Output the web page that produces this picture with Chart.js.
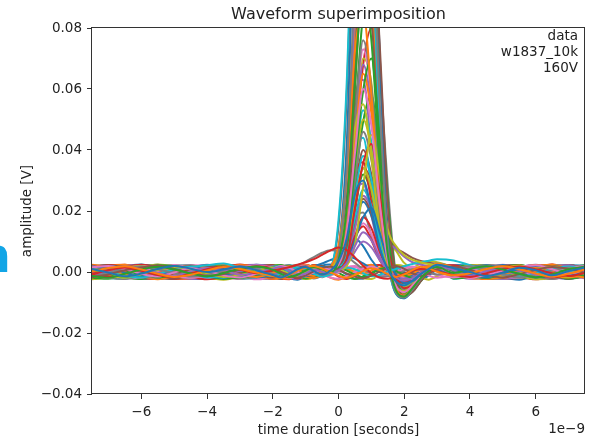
<!DOCTYPE html>
<html>
<head>
<meta charset="utf-8">
<title>Waveform superimposition</title>
<script src="https://cdn.jsdelivr.net/npm/chart.js@4.4.1/dist/chart.umd.min.js"></script>
<style>
  body { margin: 0; background: #fff; }
  #wrap { width: 592px; height: 441px; position: relative; }
</style>
</head>
<body>
<div id="wrap"><canvas id="grafica" width="592" height="441"></canvas></div>
<script>
// sample times, in ns (axis shows the 1e-9 factor)
const times = [-7.5, -7, -6.5, -6, -5.5, -5, -4.5, -4, -3.5, -3, -2.5, -2,
  -1.75, -1.5, -1.25, -1, -0.75, -0.5, -0.25, 0, 0.25, 0.5, 0.75, 1, 1.25, 1.5, 1.75, 2, 2.25, 2.5, 2.75, 3,
  3.5, 4, 4.5, 5, 5.5, 6, 6.5, 7, 7.5];

const timeTicks = [-6, -4, -2, 0, 2, 4, 6];
const ampTicks = [-0.04, -0.02, 0, 0.02, 0.04, 0.06, 0.08];

const chartTitle = 'Waveform superimposition';
const legendLines = ['data', 'w1837_10k', '160V'];

// waveforms, amplitude in mV (one value per sample time)
const noise1 = [0.2, 1.3, 1.9, 0.8, -0.6, -1.6, -0.9, 0.5, 1.6, 1.0, -0.2, -1.3, -1.8, -0.9, 0.4, 1.5, 2.0, 1.1, -0.1, -1.2, -1.9, -1.0, 0.3, 1.2, 0.6, -0.7, -1.6, -0.8, 0.6, 1.7, 1.2, 0.1, -1.1, -0.4, 1.0, 1.9, 0.9, -0.5, -1.5, -0.6, 0.8];
const noise2 = [-1.7, -0.8, 0.6, 1.5, 2.1, 1.0, -0.3, -1.4, -0.7, 0.8, 1.8, 0.9, 0.0, -1.0, -1.9, -1.1, 0.2, 1.3, 1.8, 0.7, -0.5, -1.5, -2.1, -1.2, 0.1, 1.4, 2.0, 1.0, -0.4, -1.3, -0.5, 0.9, 1.8, 0.6, -0.9, -1.8, -0.7, 0.7, 1.6, 1.0, -0.3];
const noise3 = [1.1, 0.0, -1.2, -1.8, -0.6, 0.9, 1.7, 2.2, 2.8, 1.3, -0.2, -1.3, -0.6, 0.7, 1.5, 0.8, -0.6, -1.5, -0.9, 0.4, 1.4, 0.9, -0.4, -1.4, -1.0, 0.2, 1.0, 1.9, 2.6, 3.2, 3.7, 4.2, 3.8, 2.2, 0.6, -0.8, -1.6, -0.5, 1.0, 1.8, 0.7];
const noise4 = [0.7, -0.6, -1.5, -0.4, 1.0, 1.9, 1.2, -0.1, -1.4, -2.0, -0.9, 0.6, 1.5, 2.0, 1.1, -0.2, -1.3, -0.6, 0.8, 1.6, 0.5, -0.9, -1.7, -0.6, 0.9, 1.5, 0.3, -1.0, -1.9, -1.2, 0.2, 1.3, 0.4, -1.1, -1.9, -0.6, 1.1, 2.0, 1.0, -0.4, -1.2];
const noise5 = [-0.3, 0.9, 1.8, 1.2, 0.0, -1.1, -1.9, -1.0, 0.3, 1.4, 2.1, 1.3, 0.1, -0.8, 0.2, 1.2, 0.6, -0.7, -1.8, -2.2, -1.3, 0.0, 1.1, 1.8, 0.9, -0.2, -1.0, -2.0, -2.4, -1.5, -0.3, 0.8, 1.7, 1.1, -0.2, -1.3, -1.9, -0.8, 0.5, 1.4, 2.0];
const noise6 = [1.6, 0.5, -0.8, -1.7, -1.1, 0.3, 1.4, 0.6, -0.7, -1.5, -0.4, 1.0, 1.9, 1.1, -0.3, -1.5, -2.0, -0.8, 0.6, 1.7, 1.2, 0.1, -0.6, 0.5, 1.5, 0.8, -0.4, -1.3, -0.5, 0.9, 2.0, 1.4, 0.0, -1.4, -0.8, 0.6, 1.6, 0.3, -1.0, -1.8, -0.9];
const noise7 = [-1.0, -1.9, -1.1, 0.4, 1.5, 0.7, -0.5, 0.6, 1.7, 0.9, -0.6, -1.7, -1.0, 0.4, 1.6, 2.1, 1.0, -0.2, -1.1, -0.2, 0.9, 1.6, 0.4, -0.9, -1.8, -1.2, 0.0, 0.9, 1.8, 1.1, -0.1, -1.0, -1.8, -0.7, 0.7, 1.5, 0.5, -0.8, -1.6, -0.5, 0.9];
const noise8 = [0.4, 1.5, 0.6, -0.9, -1.8, -0.8, 0.5, 1.6, 1.9, 0.5, -1.0, -0.3, 0.8, -0.4, -1.5, -0.7, 0.7, 1.8, 1.0, -0.3, -1.6, -2.3, -1.4, -0.2, 0.9, 1.6, 0.7, -0.6, -0.1, 1.0, 1.6, 0.5, -0.9, 0.2, 1.4, 0.8, -0.6, -1.7, -1.1, 0.3, 1.5];
const noise9 = [-0.5, 0.3, 1.2, 2.0, 1.3, 0.1, -1.0, -1.8, -0.9, 0.2, 0.9, 0.1, -1.2, -1.9, -1.2, 0.1, 1.1, 0.4, -0.7, 0.5, 1.6, 2.0, 1.0, -0.3, -1.4, -0.6, 0.6, 1.7, 1.3, 0.2, -1.2, -1.9, -0.8, 0.6, 1.8, 1.2, -0.1, -1.0, 0.2, 1.3, 0.5];
const noise10 = [2.4, 1.5, 0.0, -1.6, -2.4, -1.3, 0.4, 2.0, 2.3, 0.9, -0.9, -2.2, -1.9, -0.3, 1.4, 2.4, 1.4, -0.2, -1.8, -2.5, -1.4, 0.2, 1.8, 2.4, 1.2, -0.5, -2.0, -2.4, -1.0, 0.7, 2.1, 2.2, 0.6, -1.2, -2.3, -1.6, 0.1, 1.8, 2.4, 1.1, -0.6];
const noise11 = [-2.4, -1.7, -0.1, 1.6, 2.5, 1.7, 0.0, -1.7, -2.5, -1.5, 0.3, 2.0, 2.3, 0.8, -1.1, -2.3, -1.8, 0.0, 1.7, 2.4, 1.3, -0.4, -2.0, -2.3, -0.9, 0.9, 2.3, 1.9, 0.2, -1.6, -2.5, -1.4, 0.5, 2.1, 2.3, 0.8, -1.1, -2.4, -1.8, 0.1, 1.9];
const noise12 = [0.6, 2.2, 2.4, 0.9, -1.0, -2.3, -2.0, -0.4, 1.5, 2.5, 1.5, -0.3, -2.0, -2.4, -1.0, 0.9, 2.3, 2.0, 0.3, -1.5, -2.3, -1.2, 0.6, 2.2, 2.3, 0.6, -1.3, -2.4, -1.7, 0.1, 1.9, 2.4, 1.0, -0.9, -2.3, -2.0, -0.3, 1.6, 2.5, 1.4, -0.5];
const noise13 = [-1.5, 0.2, 1.9, 2.5, 1.2, -0.7, -2.2, -2.3, -0.8, 1.1, 2.4, 1.8, 0.0, -1.8, -2.5, -1.3, 0.5, 2.1, 2.5, 1.0, -0.8, -2.2, -2.1, -0.5, 1.3, 2.4, 1.6, -0.2, -1.9, -2.4, -1.1, 0.8, 2.3, 1.9, 0.1, -1.7, -2.5, -1.2, 0.7, 2.2, 2.1];

const pulse10 = [0.8, -0.5, 1.2, 0.3, -1.1, 0.6, 1.5, -0.2, -1.3, 0.4, 1.1, -0.6, 0.2, 1.0, -0.4, -1.2, 0.5, 0.9, 0.2, 0.6, 2.4, 6.7, 10, 8.1, 4.0, 0.6, -1.4, -2.2, -1.5, -0.3, 0.8, 1.3, -0.4, 0.9, 1.6, -0.7, 0.2, 1.2, -1.0, 0.4, 1.1];
const pulse11 = [1.7, 0.6, -0.7, -1.9, -1.2, 0.2, 1.5, 2.2, 1.0, -0.5, -1.6, -0.9, 0.6, 1.8, 1.2, -0.2, -1.5, -0.8, 0.3, 1.5, 6.0, 11, 8.5, 4.0, 0.8, -0.8, -1.6, -1.8, -1.0, 0.2, 1.0, 1.2, 0.4, 1.6, 2.2, 0.9, -0.6, -1.8, -1.1, 0.3, 1.5];
const pulse13 = [-1.0, 0.4, 1.6, 0.9, -0.3, -1.4, 0.2, 1.3, 0.7, -0.9, -0.2, 1.1, 1.6, 0.3, -1.1, -0.5, 0.8, 0.1, -0.4, 0.5, 2.9, 8.5, 13, 10.4, 4.9, 0.8, -1.8, -2.9, -2.0, -0.6, 0.9, 1.7, 0.6, -1.2, 0.3, 1.4, 0.8, -0.8, -1.5, 0.6, 1.8];
const pulse15 = [1.4, 2.0, 0.6, -0.8, -1.6, -0.4, 0.9, 1.8, 1.1, 0.0, -1.3, -0.7, 0.6, 1.4, 2.0, 1.0, -0.3, -0.9, 0.1, 1.2, 4.5, 11.5, 15, 10.5, 4.0, 0.2, -2.2, -3.0, -1.8, -0.2, 1.2, 1.9, -0.2, -1.4, 0.1, 1.5, 2.1, 0.7, -0.6, -1.3, 0.2];
const pulse16 = [-0.9, -2.0, -1.2, 0.2, 1.6, 2.3, 1.1, -0.4, -1.7, -2.1, -0.8, 0.7, 1.8, 0.9, -0.6, -1.9, -1.0, 0.5, -0.2, 0.9, 3.8, 10.8, 16, 12.5, 5.6, 0.7, -2.0, -3.0, -2.1, -0.6, 0.7, 1.6, -1.2, -2.0, -0.7, 0.8, 2.0, 1.3, -0.2, -1.5, -2.1];
const pulse18 = [-1.6, -0.6, 0.7, 1.5, 0.4, -0.5, -1.5, -0.8, 0.5, 1.7, 1.2, -0.1, -1.2, -1.7, -0.4, 0.6, 1.5, 0.8, 0.4, 1.0, 4.0, 11.7, 18, 14.4, 6.8, 1.1, -2.1, -3.4, -2.3, -0.8, 0.7, 1.5, 2.0, 0.9, -0.9, -1.6, -0.3, 1.3, 1.9, 0.0, -1.2];
const pulse20 = [2.3, 1.2, -0.1, -1.1, -2.1, -1.3, 0.1, 1.3, 2.2, 1.4, 0.2, -1.0, -2.0, -1.4, 0.0, 1.4, 2.1, 1.2, 0.5, 2.4, 8.5, 17.5, 19.5, 12.0, 4.2, 0.0, -2.4, -3.3, -2.0, -0.4, 1.0, 1.8, 1.9, 0.7, -0.8, -2.2, -1.4, 0.2, 1.5, 2.3, 1.0];
const pulse21 = [0.3, 1.3, -0.2, -1.5, -0.9, 0.8, 1.9, 0.5, -0.7, -1.5, 0.0, 1.4, 0.9, -0.5, -1.4, -0.2, 1.1, 1.7, 0.9, 0.8, 2.7, 10.5, 17.9, 21, 13.0, 3.8, -0.8, -3.6, -3.0, -1.4, 0.3, 1.4, 1.1, -0.6, -1.7, -0.4, 1.0, 2.0, 0.8, -0.9, 0.3];
const pulse23 = [-2.1, -1.0, 0.4, 1.9, 2.4, 1.1, -0.5, -1.9, -2.2, -0.9, 0.6, 2.1, 1.5, 0.0, -1.5, -2.2, -1.1, 0.3, 0.1, 1.0, 5.0, 15.0, 23, 18.4, 8.7, 1.4, -2.5, -3.8, -2.5, -0.9, 0.6, 1.3, -1.5, -0.3, 1.2, 2.3, 1.4, -0.1, -1.6, -2.3, -1.0];
const pulse24 = [2.1, 0.8, -0.6, -1.3, 0.2, 1.6, 1.0, -0.4, -1.6, -0.9, 0.7, 2.0, 1.3, 0.0, -1.0, 0.4, 1.8, 1.2, 0.5, 1.3, 5.3, 15.6, 24, 19.2, 9.1, 1.4, -2.6, -4.0, -2.6, -0.9, 0.8, 2.2, 0.5, -1.1, -1.8, 0.3, 1.7, 1.0, -0.5, -1.7, -0.6];
const pulse27 = [-0.7, -1.7, -0.9, 0.6, 1.7, 0.9, -0.6, -1.8, -1.0, 0.3, 1.5, 0.4, -0.8, -1.5, 0.1, 1.3, 0.6, -0.4, -0.3, 1.1, 5.9, 17.6, 27, 21.6, 10.3, 1.6, -2.9, -4.3, -2.9, -1.2, 0.2, 1.0, 1.9, 1.2, -0.2, -1.4, -0.8, 0.9, 1.6, 0.4, -1.0];
const pulse29 = [0.0, 1.4, 2.3, 1.5, -0.1, -1.6, -2.3, -1.2, 0.5, 2.0, 2.4, 1.0, -0.6, -2.0, -1.6, -0.2, 1.3, 0.9, 0.8, 3.6, 12.8, 26.0, 29, 18.5, 6.5, 0.4, -3.2, -4.4, -2.9, -0.8, 1.2, 2.1, 0.6, -0.9, -2.1, -1.5, 0.2, 1.9, 2.4, 1.2, -0.4];
const pulse30 = [1.0, -0.2, -1.4, -0.5, 1.0, 2.0, 1.1, 0.0, 0.8, 1.8, 0.6, -1.0, -1.8, -0.7, 0.9, 1.6, 0.3, -0.8, 0.4, 3.5, 11.0, 25.5, 30, 20.5, 7.8, 0.9, -3.1, -4.4, -2.8, -0.7, 1.0, 2.4, 1.3, 0.0, -1.3, -0.2, 1.4, 0.6, -1.1, 0.3, 1.5];
const pulse32 = [1.3, -0.2, -1.7, -2.3, -1.1, 0.6, 2.0, 1.6, 0.1, -1.4, -2.3, -1.5, 0.2, 1.7, 2.3, 1.0, -0.6, -1.7, 0.0, 1.3, 7.0, 20.8, 32, 25.6, 12.2, 1.9, -3.3, -4.8, -3.1, -1.1, 0.5, 1.5, 2.3, 1.3, -0.2, -1.8, -2.2, -0.8, 0.8, 2.1, 1.4];
const pulse34 = [-1.2, 0.1, 1.4, 2.0, 0.7, -0.9, -1.7, -0.2, 1.2, 0.5, -1.1, -1.6, -0.3, 1.0, 1.9, 0.7, -0.6, -1.3, -0.2, 1.4, 7.5, 22.1, 34, 27.2, 12.9, 2.0, -3.3, -4.9, -3.2, -1.0, 0.6, 1.8, -0.8, -1.6, -0.5, 0.8, 1.9, 1.3, -0.2, -1.4, -0.9];
const pulse36 = [-1.4, 0.1, 1.6, 2.4, 1.5, 0.0, -1.5, -2.4, -1.6, 0.1, 1.7, 2.2, 0.9, -0.8, -2.1, -1.3, 0.4, 1.1, 0.6, 4.3, 15.8, 32.4, 36, 23.0, 8.3, 0.6, -3.8, -5.1, -3.3, -0.9, 1.0, 2.2, -2.0, -1.1, 0.5, 1.9, 2.2, 0.8, -0.9, -2.2, -1.3];
const pulse38 = [0.6, 1.7, 1.1, -0.3, -1.2, 0.0, 1.3, 0.6, -0.9, -1.9, -0.8, 0.7, 1.6, 0.9, -0.7, -1.6, -0.2, 1.0, 1.3, 1.9, 8.4, 24.7, 38, 30.4, 14.4, 2.3, -3.6, -5.2, -3.5, -1.3, 0.9, 2.8, 1.6, 0.2, -1.0, -1.7, 0.1, 1.4, 2.0, 0.8, -0.4];
const pulse40 = [2.0, 2.3, 0.9, -0.7, -2.0, -1.8, -0.3, 1.4, 2.3, 1.2, -0.4, -1.9, -2.2, -0.8, 0.9, 2.2, 1.6, 0.1, -0.3, 1.6, 8.8, 26.0, 40, 32.0, 15.2, 2.4, -3.8, -5.4, -3.6, -1.2, 0.6, 1.7, -0.2, 1.4, 2.3, 1.6, 0.0, -1.6, -2.3, -1.2, 0.5];
const pulse42 = [-0.4, -1.5, -0.8, 0.9, 1.8, 1.0, -0.1, -1.2, -0.4, 0.9, 1.9, 1.2, 0.0, -1.2, -1.9, -0.6, 0.8, 1.5, 0.7, 1.2, 4.4, 21.0, 35.7, 42, 26.0, 7.6, -1.5, -5.3, -4.4, -2.0, 0.0, 1.5, 2.2, 0.6, -0.9, 0.4, 1.2, -0.6, -1.8, -0.7, 0.8];
const pulse44 = [-0.6, -1.9, -2.2, -0.9, 0.8, 2.1, 2.0, 0.6, -1.0, -2.2, -1.7, -0.1, 1.5, 2.3, 1.4, -0.3, -1.8, -1.1, 0.9, 5.3, 19.4, 39.6, 44, 28.2, 10.1, 0.8, -4.2, -5.8, -3.8, -1.0, 1.1, 2.4, 1.1, -0.5, -2.0, -2.1, -0.6, 1.2, 2.3, 1.5, -0.1];
const pulse46 = [1.8, 0.7, -0.5, -1.8, -1.1, 0.4, 1.6, 2.1, 0.8, -0.4, -1.4, -0.5, 0.9, 1.7, 0.5, -0.8, -1.5, -0.4, 0.3, 1.8, 10.1, 29.9, 46, 36.8, 17.5, 2.8, -3.9, -5.6, -3.8, -1.4, 0.4, 1.2, 0.3, 1.5, 1.9, 0.5, -1.2, -1.7, -0.1, 1.3, 2.0];
const pulse50 = [-0.9, 0.5, 1.5, 0.6, -0.6, -1.6, -0.7, 0.8, 1.7, 1.0, -0.3, 0.6, 1.4, 0.2, -1.0, -0.2, 1.2, 0.7, -0.5, 2.0, 11.0, 32.5, 50, 40.0, 19.0, 3.0, -4.2, -6.0, -4.0, -1.5, 0.5, 2.0, 1.0, -0.7, -1.9, -0.9, 0.6, 1.8, 1.1, -0.3, -1.5];
const pulse53 = [0.9, 2.1, 1.9, 0.3, -1.3, -2.3, -1.6, 0.0, 1.6, 2.3, 1.1, -0.6, -2.0, -2.0, -0.5, 1.1, 2.2, 1.3, 0.2, 2.1, 11.7, 34.5, 53, 42.4, 20.1, 3.2, -4.4, -6.2, -4.1, -1.5, 0.5, 1.9, -2.2, -1.3, 0.3, 1.9, 2.3, 0.9, -0.8, -2.1, -1.6];
const pulse55 = [0.2, -1.0, -1.9, -0.8, 0.7, 1.4, 0.3, -0.9, -0.1, 1.2, 2.0, 0.9, -0.4, -1.3, -0.3, 1.1, 1.9, 0.8, 1.2, 6.0, 20.0, 46.8, 55, 37.6, 14.3, 1.7, -4.5, -6.3, -4.1, -1.2, 1.2, 2.6, 0.4, -1.3, -0.6, 1.0, 2.1, 1.0, -0.4, -1.6, -0.3];
const pulse58 = [-2.2, -1.4, 0.2, 1.8, 2.3, 1.0, -0.7, -2.0, -1.9, -0.4, 1.3, 2.3, 1.6, -0.1, -1.7, -2.2, -0.9, 0.4, 0.7, 1.5, 5.8, 29.0, 49.3, 58, 36.5, 10.8, -2.0, -6.4, -5.0, -2.2, 0.1, 1.6, 1.6, 2.3, 1.0, -0.6, -2.0, -1.8, -0.2, 1.4, 2.2];
const pulse60 = [1.5, 2.0, 0.9, -0.6, -1.5, -0.2, 1.2, 0.4, -1.1, -1.8, -0.6, 1.0, 2.0, 1.4, 0.1, -1.0, -0.1, 1.3, 0.9, 2.4, 13.2, 39.0, 60, 48.0, 22.8, 3.6, -4.6, -6.6, -4.4, -1.6, 0.6, 1.4, -0.5, -1.8, -1.0, 0.5, 1.6, 2.2, 0.9, -0.5, 0.6];
const pulse63 = [1.8, 0.4, -1.2, -2.3, -1.8, -0.2, 1.5, 2.4, 1.6, -0.1, -1.7, -2.3, -1.1, 0.6, 2.0, 1.9, 0.3, -0.9, 1.1, 7.6, 27.7, 56.7, 63, 40.3, 14.5, 1.3, -4.9, -6.8, -4.4, -1.3, 1.0, 2.3, -0.9, -2.2, -1.8, -0.1, 1.6, 2.4, 1.5, -0.2, -1.8];
const pulse65 = [-1.8, -0.8, 0.5, 1.6, 1.0, -0.3, -1.4, -0.6, 0.9, 1.9, 1.3, 0.1, -1.1, -0.4, 0.8, 1.6, 0.5, -0.6, 0.2, 2.6, 14.3, 42.3, 65, 52.0, 24.7, 3.9, -5.0, -7.0, -4.6, -1.6, 0.8, 2.1, 1.4, 0.2, -1.2, -1.9, -0.5, 1.0, 1.7, 0.3, -0.9];
const pulse68 = [-1.1, 0.6, 2.0, 2.2, 0.8, -0.9, -2.2, -2.0, -0.5, 1.2, 2.3, 1.7, 0.0, -1.6, -2.3, -1.0, 0.7, 1.6, 0.4, 2.7, 15.0, 44.2, 68, 54.4, 25.8, 4.1, -5.1, -7.1, -4.7, -1.7, 0.6, 2.0, 2.2, 0.6, -1.1, -2.3, -1.5, 0.3, 1.9, 2.2, 0.7];
const pulse70 = [0.9, -0.4, -1.2, 0.0, 1.3, 1.9, 0.6, -0.7, -1.5, -0.6, 0.8, 1.5, 0.4, -0.9, -1.7, -0.7, 0.6, 1.4, 1.0, 1.8, 7.0, 35.0, 59.5, 70, 44.0, 13.0, -2.0, -6.8, -5.6, -2.6, 0.0, 1.8, 2.0, 1.1, -0.3, -1.3, 0.0, 1.5, 0.7, -0.8, -1.6];
const pulse73 = [0.5, -1.0, -2.1, -1.9, -0.4, 1.3, 2.3, 1.8, 0.2, -1.4, -2.4, -1.4, 0.4, 1.9, 2.1, 0.6, -1.0, -1.6, -0.1, 2.9, 16.1, 47.5, 73, 58.4, 27.7, 4.4, -5.3, -7.3, -4.8, -1.8, 0.7, 2.2, -1.7, -0.2, 1.5, 2.4, 1.4, -0.4, -2.0, -2.1, -0.6];
const pulse76 = [-0.2, 1.1, 2.0, 1.2, -0.1, -1.3, -1.9, -0.6, 0.7, 1.5, 0.3, -1.0, -0.2, 1.1, 1.8, 0.6, -0.7, -0.1, 0.6, 3.0, 16.7, 49.4, 76, 60.8, 28.9, 4.6, -5.3, -7.4, -4.9, -1.8, 0.7, 2.3, 0.8, -0.9, -1.7, -0.3, 1.1, 1.9, 0.6, -0.7, 0.9];
const pulse80 = [2.2, 1.0, -0.6, -1.9, -2.3, -1.0, 0.7, 2.1, 2.0, 0.5, -1.2, -2.2, -1.6, 0.0, 1.6, 2.3, 1.1, -0.3, 0.9, 2.0, 8.0, 40.0, 68.0, 80, 50.2, 14.9, -2.4, -7.4, -6.0, -2.8, 0.2, 1.9, 0.9, 2.2, 1.8, 0.1, -1.5, -2.4, -1.3, 0.5, 2.0];
const pulse85 = [1.2, 0.3, -0.9, -1.7, -0.5, 1.0, 2.0, 1.3, 0.2, -0.9, -1.6, -0.3, 1.1, 1.9, 0.9, -0.5, -1.3, 0.2, 1.6, 8.5, 31.0, 72.3, 85, 58.1, 22.1, 2.6, -5.8, -7.8, -5.0, -1.5, 1.2, 2.8, 1.5, -0.2, -1.5, -0.8, 0.7, 1.6, 0.4, -1.0, -1.8];
const pulse95 = [-1.3, -1.9, -0.6, 0.8, 1.7, 0.8, -0.5, -1.4, -0.3, 1.1, 1.8, 0.7, -0.6, -1.6, -0.9, 0.5, 1.6, 1.0, -0.2, 3.8, 20.9, 61.8, 95, 76.0, 36.1, 5.7, -6.0, -8.0, -5.3, -2.0, 0.4, 1.6, -0.3, 1.0, 1.9, 0.8, -0.6, -1.7, -0.8, 0.9, 1.7];
const pulse100 = [-1.9, -2.2, -0.8, 0.9, 2.2, 1.9, 0.4, -1.3, -2.3, -1.5, 0.3, 1.9, 2.3, 0.9, -0.8, -2.1, -1.5, 0.2, 0.5, 2.2, 9.0, 50.0, 85.0, 100, 66.0, 24.0, -1.5, -7.8, -6.4, -3.0, 0.0, 1.7, -2.1, -1.6, 0.0, 1.7, 2.3, 1.0, -0.7, -2.2, -1.4];
const pulse105 = [0.5, 1.6, 1.9, 0.4, -1.0, -1.7, -0.4, 1.0, 1.7, 0.5, -0.8, -1.8, -1.1, 0.2, 1.4, 1.9, 0.7, -0.5, 0.3, 4.2, 23.1, 68.3, 105, 84.0, 39.9, 6.3, -6.2, -8.3, -5.5, -2.1, 0.9, 2.5, 1.9, 0.5, -1.1, -1.8, -0.4, 0.8, 2.0, 1.1, -0.2];
const pulse115 = [0.2, 1.8, 2.4, 1.2, -0.5, -2.0, -2.1, -0.6, 1.1, 2.3, 1.6, -0.1, -1.8, -2.2, -0.7, 1.0, 2.1, 1.5, 0.1, 4.6, 25.3, 74.8, 115, 92.0, 43.7, 6.9, -6.3, -8.2, -5.6, -2.1, 0.8, 2.4, 1.3, -0.4, -2.0, -2.2, -0.7, 1.1, 2.4, 1.6, 0.0];
const pulse120 = [-0.6, 0.7, 1.3, 0.2, -1.2, -0.5, 0.9, 2.0, 1.0, -0.3, -1.5, -0.7, 0.6, 1.6, 0.6, -0.8, -1.4, -0.3, 0.8, 2.2, 9.6, 60.0, 102, 120, 75.4, 22.3, -1.8, -7.9, -6.5, -3.0, 0.2, 2.0, 0.6, -1.0, -1.9, -0.7, 0.9, 1.8, 0.4, -1.1, 0.0];
const pulse125 = [-2.3, -1.2, 0.5, 2.0, 2.2, 0.7, -1.0, -2.2, -1.7, 0.0, 1.8, 2.3, 1.0, -0.7, -2.1, -1.7, -0.1, 1.0, 0.3, 5.0, 27.5, 81.3, 125, 100, 47.5, 7.5, -6.4, -8.3, -5.6, -2.2, 0.4, 1.6, -0.5, -2.0, -2.2, -0.6, 1.3, 2.3, 1.5, -0.3, -1.9];
const pulse135 = [1.9, 1.0, -0.2, -1.4, -1.8, -0.3, 1.1, 0.3, -1.0, -0.2, 1.3, 1.9, 0.8, -0.5, -1.8, -1.0, 0.4, 1.5, 1.1, 5.4, 29.7, 87.8, 135, 108, 51.3, 8.1, -6.5, -8.4, -5.7, -2.2, 0.6, 1.8, -0.6, -1.5, 0.2, 1.6, 1.0, -0.5, -1.6, -0.4, 1.3];
const pulse140 = [-0.4, -1.8, -2.3, -1.2, 0.5, 2.0, 2.2, 0.7, -1.1, -2.3, -1.6, 0.2, 1.9, 2.2, 0.8, -1.0, -2.1, -1.2, 0.8, 2.5, 11.0, 70.0, 119, 140, 72.0, 28.0, -1.0, -8.0, -6.6, -3.1, 0.1, 2.0, -1.0, 0.8, 2.2, 1.9, 0.2, -1.5, -2.3, -1.0, 0.9];
const pulse150 = [-1.5, -0.3, 1.0, 1.8, 0.9, -0.4, -1.5, -1.0, 0.4, 1.6, 0.9, -0.6, -1.7, -0.6, 0.7, 1.4, 0.2, -0.9, -0.1, 6.0, 33.0, 97.5, 150, 120, 57.0, 9.0, -6.8, -8.4, -5.8, -2.3, 0.5, 2.2, 1.2, 1.9, 0.7, -0.8, -1.8, -0.9, 0.5, 1.5, 0.6];
const pulse160 = [1.5, 2.3, 1.3, -0.4, -1.9, -2.2, -0.8, 1.0, 2.3, 1.7, 0.0, -1.6, -2.3, -1.0, 0.8, 2.2, 1.4, 0.0, 1.3, 15.0, 58.0, 136, 160, 109, 41.6, 4.8, -7.0, -8.5, -5.5, -1.7, 1.1, 2.5, 2.0, 1.0, -0.7, -2.2, -1.9, -0.2, 1.6, 2.3, 1.1];
const pulse170 = [0.1, -1.2, -1.8, -0.5, 1.0, 1.6, 0.5, -0.8, -1.8, -0.9, 0.6, 1.7, 2.0, 0.7, -0.6, 0.3, 1.3, 0.6, 1.4, 17.0, 62.0, 144.5, 170, 116, 44.2, 5.1, -7.2, -8.6, -5.6, -1.8, 1.0, 2.6, 0.2, -1.4, -1.9, -0.6, 0.9, 1.8, 1.2, -0.2, -1.4];
const pulse190 = [1.1, 2.0, 1.2, 0.0, -1.1, -0.3, 1.0, 1.7, 0.6, -0.7, -1.7, -0.8, 0.5, 1.2, -0.1, -1.3, -0.8, 0.5, 0.6, 7.6, 41.8, 123.5, 190, 152, 72.2, 11.4, -7.0, -8.6, -6.0, -2.4, 0.8, 2.0, -0.9, 0.5, 1.7, 1.1, -0.3, -1.6, -1.0, 0.6, 1.9];

// early small bumps around t = 0
const bump1 = [-0.8, 0.6, 1.5, 0.4, -1.0, -1.7, -0.5, 0.9, 1.7, 0.8, -0.4, 0.5, 1.0, 1.6, 2.4, 3.2, 4.2, 5.6, 7.0, 8.0, 7.2, 4.8, 2.0, -0.4, -1.8, -2.2, -1.6, -0.6, 0.4, 1.0, 0.8, 0.2, -0.9, -1.6, -0.4, 1.0, 1.8, 0.9, -0.4, -1.3, -0.3];
const bump2 = [1.3, 0.2, -1.1, -1.8, -0.7, 0.6, 1.6, 1.0, -0.3, -1.4, -0.8, 0.2, 0.6, 1.3, 2.2, 3.4, 4.9, 6.3, 7.1, 6.8, 5.2, 3.0, 1.0, -0.6, -1.5, -1.4, -0.6, 0.3, 0.9, 0.6, -0.2, -0.8, 0.5, 1.5, 1.9, 0.6, -0.8, -1.7, -0.6, 0.8, 1.6];
const bump3 = [-0.2, -1.3, -0.6, 0.8, 1.8, 1.1, -0.2, -1.3, -1.9, -0.7, 0.7, 1.4, 0.6, -0.2, 0.3, 1.0, 1.8, 2.8, 3.9, 4.8, 5.2, 4.4, 2.8, 1.2, 0.0, -0.8, -1.0, -0.5, 0.3, 1.1, 1.5, 0.8, -0.6, -1.5, -0.8, 0.7, 1.7, 1.2, -0.1, -1.3, -1.8];

// pulses with a slow tail after the peak
const tail1 = [0.9, -0.3, -1.4, -0.7, 0.6, 1.6, 0.9, -0.4, -1.6, -1.1, 0.4, 1.5, 0.7, -0.6, -1.3, -0.2, 1.0, 0.3, -0.4, 0.5, 2.0, 9.0, 28.0, 45.0, 32.0, 14.0, 8.5, 5.5, 4.0, 3.2, 2.6, 2.2, 1.4, 0.3, -0.9, -1.6, -0.5, 0.9, 1.8, 0.8, -0.5];
const tail2 = [-1.4, -0.5, 0.8, 1.7, 1.1, -0.2, -1.2, -0.4, 1.0, 1.9, 0.8, -0.6, -1.6, -1.0, 0.3, 1.3, 0.7, -0.4, 0.2, 0.8, 3.5, 14.0, 25.0, 21.0, 13.0, 9.5, 7.6, 5.0, 3.2, 2.4, 2.0, 1.4, 0.2, -1.1, -1.8, -0.5, 1.1, 1.7, 0.4, -0.9, -1.6];
const tail3 = [1.0, 2.1, 1.4, -0.2, -1.7, -2.2, -0.9, 0.8, 2.0, 1.5, -0.1, -1.5, -2.0, -0.6, 1.0, 1.8, 0.7, -0.5, 0.3, 1.5, 6.5, 20.0, 34.0, 30.0, 19.0, 12.0, 8.0, 6.2, 4.6, 3.6, 3.0, 2.6, 2.0, 0.6, -1.0, -2.0, -0.8, 0.9, 2.1, 1.3, -0.4];
const tail4 = [-0.8, -2.0, -1.6, 0.0, 1.7, 2.3, 1.1, -0.6, -2.0, -1.4, 0.3, 1.8, 1.9, 0.4, -1.2, -1.9, -0.6, 0.8, 1.0, 2.2, 9.0, 38.0, 70.0, 62.0, 30.0, 11.0, 7.0, 3.0, 1.5, 2.8, 3.6, 3.2, 1.5, -0.3, -1.8, -1.7, 0.0, 1.6, 2.2, 0.7, -1.0];

const waveforms = [
  pulse30, noise1, pulse95, bump1, pulse13, noise2, pulse60, pulse150, tail1, noise3,
  pulse21, pulse85, noise4, pulse42, pulse10, pulse120, noise5, bump2, pulse55, pulse27,
  pulse190, noise6, pulse70, pulse18, tail2, pulse105, noise7, pulse46, pulse34, pulse170,
  bump3, pulse65, noise8, pulse15, pulse135, pulse24, noise9, pulse76, pulse50, pulse38,
  pulse11, noise10, pulse100, pulse36, pulse68, tail3, pulse16, pulse140, noise11, pulse44,
  pulse23, pulse115, pulse58, noise12, pulse29, pulse160, pulse73, pulse20, tail4, pulse53,
  noise13, pulse125, pulse32, pulse80, pulse63, pulse40
];

// matplotlib default colour cycle
const colores = ['#1f77b4', '#ff7f0e', '#2ca02c', '#d62728', '#9467bd',
  '#8c564b', '#e377c2', '#7f7f7f', '#bcbd22', '#17becf'];

const fuente = '"DejaVu Sans", sans-serif';
const colorTexto = '#222';

function conMenos(texto) {
  return String(texto).replace('-', '\u2212');
}

// texts and frame drawn like matplotlib does
const decoracion = {
  id: 'decoracion',
  afterDraw(chart) {
    const { ctx, chartArea: a } = chart;
    ctx.save();
    ctx.strokeStyle = '#333';
    ctx.lineWidth = 1;
    ctx.strokeRect(a.left - 0.5, a.top - 0.5, a.right - a.left, a.bottom - a.top);

    ctx.fillStyle = colorTexto;
    ctx.textBaseline = 'alphabetic';
    ctx.textAlign = 'center';
    ctx.font = `16px ${fuente}`;
    ctx.fillText(chartTitle, (a.left + a.right) / 2, 18.5);

    ctx.font = `13.5px ${fuente}`;
    ctx.textAlign = 'right';
    legendLines.forEach((linea, i) => {
      ctx.fillText(linea, a.right - 7, 40 + i * 16);
    });
    ctx.fillText('1e\u22129', a.right, 433);

    // cut blue letter at the left border
    ctx.fillStyle = '#12a5e6';
    ctx.font = `bold 48px ${fuente}`;
    ctx.fillText('n', 11, 272);
    ctx.restore();
  }
};

const datasets = waveforms.map((serie, i) => ({
  data: serie.map((v, j) => ({ x: times[j], y: v / 1000 })),
  borderColor: colores[i % colores.length],
  borderWidth: 2,
  pointRadius: 0,
  fill: false,
  cubicInterpolationMode: 'monotone',
  clip: 0
}));

const ctx = document.getElementById('grafica');
new Chart(ctx, {
  type: 'line',
  data: { datasets: datasets },
  options: {
    responsive: false,
    animation: false,
    devicePixelRatio: 1,
    layout: { padding: { top: 28, right: 7, left: 0, bottom: 0 } },
    plugins: {
      legend: { display: false },
      tooltip: { enabled: false },
      title: { display: false }
    },
    scales: {
      x: {
        type: 'linear',
        min: -7.5,
        max: 7.5,
        afterBuildTicks: (s) => { s.ticks = timeTicks.map(v => ({ value: v })); },
        afterFit: (s) => { s.height = 47; },
        grid: { drawOnChartArea: false, drawTicks: true, tickLength: 5, tickColor: '#333', tickWidth: 1 },
        border: { display: false },
        ticks: {
          color: colorTexto,
          font: { family: fuente, size: 13.5 },
          padding: 5,
          maxRotation: 0,
          autoSkip: false,
          callback: (v) => conMenos(v)
        },
        title: {
          display: true,
          text: 'time duration [seconds]',
          color: colorTexto,
          font: { family: fuente, size: 13.5 },
          padding: { top: 0, bottom: 2 }
        }
      },
      y: {
        type: 'linear',
        min: -0.04,
        max: 0.08,
        afterBuildTicks: (s) => { s.ticks = ampTicks.map(v => ({ value: v })); },
        afterFit: (s) => { s.width = 92; },
        grid: { drawOnChartArea: false, drawTicks: true, tickLength: 5, tickColor: '#333', tickWidth: 1 },
        border: { display: false },
        ticks: {
          color: colorTexto,
          font: { family: fuente, size: 13.5 },
          padding: 5,
          callback: (v) => conMenos(v.toFixed(2))
        },
        title: {
          display: true,
          text: 'amplitude [V]',
          color: colorTexto,
          font: { family: fuente, size: 13.5 },
          padding: { top: 19, bottom: 0 }
        }
      }
    }
  },
  plugins: [decoracion]
});
</script>
</body>
</html>
